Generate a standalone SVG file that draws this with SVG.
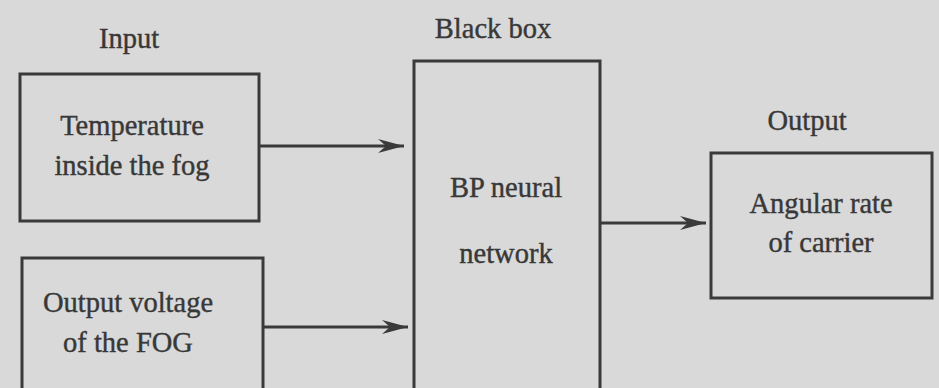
<svg xmlns="http://www.w3.org/2000/svg" width="939" height="388" viewBox="0 0 939 388">
<style>
.box{fill:none;stroke:#3a3a3a;stroke-width:3}
.t{font-family:"Liberation Serif","Times New Roman",serif;font-size:28.5px;fill:#383838;stroke:#383838;stroke-width:0.4;text-anchor:middle}
.c{stroke:#3a3a3a;stroke-width:3;fill:none}
</style>
<defs>
<marker id="ah" markerUnits="userSpaceOnUse" markerWidth="30" markerHeight="16" refX="26" refY="8" orient="auto">
<path d="M0,1 L26,8 L0,15 L8,8 Z" fill="#3a3a3a"/>
</marker>
</defs>
<rect width="939" height="388" fill="#d9d9d9"/>
<text class="t" x="129" y="48">Input</text>
<text class="t" x="493" y="38">Black box</text>
<text class="t" x="807" y="130">Output</text>
<g id="temp">
<rect class="box" x="20" y="74" width="239" height="147"/>
<text class="t" x="132" y="135">Temperature</text>
<text class="t" x="132" y="175">inside the fog</text>
</g>
<g id="volt">
<rect class="box" x="22" y="258" width="241" height="140"/>
<text class="t" x="128" y="312">Output voltage</text>
<text class="t" x="128" y="352">of the FOG</text>
</g>
<g id="bp">
<rect class="box" x="414" y="61" width="186" height="340"/>
<text class="t" x="506" y="197">BP neural</text>
<text class="t" x="506" y="263">network</text>
</g>
<g id="out">
<rect class="box" x="711" y="153" width="221" height="145"/>
<text class="t" x="821" y="213">Angular rate</text>
<text class="t" x="821" y="252">of carrier</text>
</g>
<g id="connectors">
<line class="c" x1="260" y1="146" x2="404" y2="146" marker-end="url(#ah)"/>
<line class="c" x1="263" y1="327" x2="408" y2="327" marker-end="url(#ah)"/>
<line class="c" x1="600" y1="223" x2="706" y2="223" marker-end="url(#ah)"/>
</g>
</svg>
